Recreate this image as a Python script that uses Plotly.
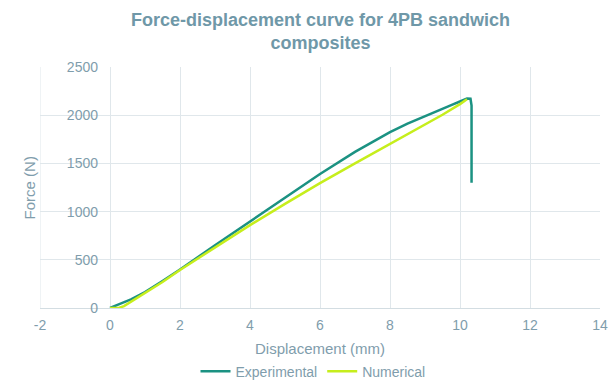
import plotly.graph_objects as go

exp_x = [0, 0.15, 0.3, 0.6, 1, 1.5, 2, 3, 4, 5, 6, 7, 7.5, 8, 8.5, 9, 9.5, 9.8, 10, 10.2, 10.3, 10.33, 10.33]
exp_y = [0, 20, 45, 90, 165, 280, 400, 650, 895, 1145, 1390, 1620, 1725, 1825, 1912, 1992, 2070, 2112, 2142, 2172, 2170, 2100, 1300]

num_x = [0, 0.25, 0.4, 0.6, 1, 1.5, 2, 3, 4, 5, 6, 7, 8, 9, 9.5, 10, 10.2]
num_y = [0, 0, 20, 65, 150, 270, 395, 625, 860, 1080, 1295, 1500, 1700, 1905, 2005, 2115, 2165]

x_ticks = [-2, 0, 2, 4, 6, 8, 10, 12, 14]
x_labels = ["-2", "0", "2", "4", "6", "8", "10", "12", "14"]
y_ticks = [0, 500, 1000, 1500, 2000, 2500]

TXT = "#7f9dac"
GRID = "#e0e7eb"
FONT = "Liberation Sans, Arial, sans-serif"

fig = go.Figure()
fig.add_trace(go.Scatter(x=exp_x, y=exp_y, mode="lines", name="Experimental",
                         line=dict(color="#1b9282", width=2.5)))
fig.add_trace(go.Scatter(x=num_x, y=num_y, mode="lines", name="Numerical",
                         line=dict(color="#c6ee1c", width=2.5)))

fig.update_layout(
    width=611, height=381,
    margin=dict(l=40, r=11, t=67, b=73, autoexpand=False),
    paper_bgcolor="white", plot_bgcolor="white",
    font=dict(family=FONT, color=TXT, size=14),
    showlegend=True,
    legend=dict(orientation="h", x=0.4875, xanchor="center", y=-0.264, yanchor="middle",
                font=dict(size=14, color=TXT), itemwidth=30, tracegroupgap=0),
    xaxis=dict(range=[-2, 14], tickvals=x_ticks, ticktext=x_labels, showgrid=True,
               gridcolor=GRID, zeroline=False, showline=True, linecolor="#d3dde2",
               linewidth=1, ticks="", automargin=False, ticklabelstandoff=4),
    yaxis=dict(range=[0, 2500], tickvals=y_ticks, showgrid=True, gridcolor=GRID,
               zeroline=False, showline=False, ticks="", automargin=False,
               anchor="free", position=0.125, ticklabelstandoff=12),
    annotations=[
        dict(text="<b>Force-displacement curve for 4PB sandwich<br>composites</b>",
             x=0.5, y=1.245, xref="paper", yref="paper", xanchor="center", yanchor="top",
             showarrow=False, align="center",
             font=dict(family=FONT, size=18, color="#6f98a8")),
        dict(text="Force (N)", x=-0.018, y=0.5, xref="paper", yref="paper",
             textangle=-90, showarrow=False, xanchor="center", yanchor="middle",
             font=dict(size=15, color=TXT)),
        dict(text="Displacement (mm)", x=0.5, y=-0.168, xref="paper", yref="paper",
             showarrow=False, xanchor="center", yanchor="middle",
             font=dict(size=15, color=TXT)),
    ],
    shapes=[dict(type="line", x0=-2, x1=-2, y0=0, y1=2500, xref="x", yref="y",
                 line=dict(color=GRID, width=1), layer="below")],
)

fig.write_html("out.html")
